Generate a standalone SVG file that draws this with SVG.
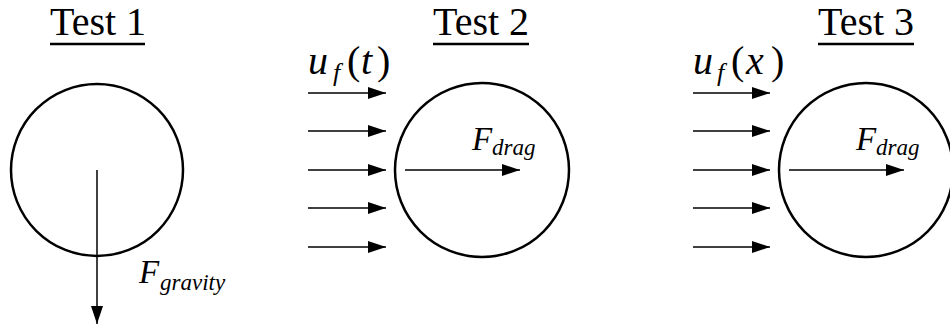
<svg xmlns="http://www.w3.org/2000/svg" width="950" height="329" viewBox="0 0 950 329">
<style>
.t{font-family:"Liberation Serif","DejaVu Serif",serif;font-size:40px;fill:#000}
.m{font-family:"Liberation Serif","DejaVu Serif",serif;font-style:italic;fill:#000}
.n{font-style:normal}
.c{fill:none;stroke:#000;stroke-width:2.5}
.a{stroke:#000;stroke-width:1.5;fill:none;marker-end:url(#ah)}
.u{stroke:#000;stroke-width:2.5}
</style>
<defs>
<marker id="ah" markerUnits="userSpaceOnUse" markerWidth="20" markerHeight="14" refX="18" refY="6" orient="auto">
<path d="M0,0 L18,6 L0,12 Z" fill="#000"/>
</marker>
</defs>
<g id="test1">
<text class="t" x="50" y="35">Test 1</text>
<line class="u" x1="50" y1="44" x2="145" y2="44"/>
<circle class="c" cx="97" cy="170" r="86"/>
<text class="m" x="139" y="283" font-size="33">F<tspan font-size="23" x="160" y="290">gravity</tspan></text>
</g>
<g id="test2">
<text class="t" x="433" y="35">Test 2</text>
<line class="u" x1="433" y1="44" x2="529" y2="44"/>
<circle class="c" cx="482" cy="170" r="87"/>
<text class="m" x="308" y="74" font-size="40">u<tspan font-size="26" x="333" y="81">f</tspan><tspan class="n" x="347" y="74">(</tspan><tspan x="361">t</tspan><tspan class="n" x="377">)</tspan></text>
<text class="m" x="472" y="150" font-size="33">F<tspan font-size="23" x="492" y="155">drag</tspan></text>
</g>
<g id="test3">
<text class="t" x="818" y="35">Test 3</text>
<line class="u" x1="818" y1="44" x2="914" y2="44"/>
<circle class="c" cx="866" cy="170" r="87"/>
<text class="m" x="693" y="74" font-size="40">u<tspan font-size="26" x="717" y="81">f</tspan><tspan class="n" x="731" y="74">(</tspan><tspan x="746">x</tspan><tspan class="n" x="771">)</tspan></text>
<text class="m" x="856" y="150" font-size="33">F<tspan font-size="23" x="876" y="155">drag</tspan></text>
</g>
<g id="connectors">
<line class="a" x1="97" y1="170" x2="97" y2="324"/>
<line class="a" x1="308" y1="93" x2="386" y2="93"/>
<line class="a" x1="308" y1="131" x2="386" y2="131"/>
<line class="a" x1="308" y1="170" x2="386" y2="170"/>
<line class="a" x1="308" y1="208" x2="386" y2="208"/>
<line class="a" x1="308" y1="247" x2="386" y2="247"/>
<line class="a" x1="405" y1="170" x2="520" y2="170"/>
<line class="a" x1="693" y1="93" x2="770" y2="93"/>
<line class="a" x1="693" y1="131" x2="770" y2="131"/>
<line class="a" x1="693" y1="170" x2="770" y2="170"/>
<line class="a" x1="693" y1="208" x2="770" y2="208"/>
<line class="a" x1="693" y1="247" x2="770" y2="247"/>
<line class="a" x1="789" y1="170" x2="904" y2="170"/>
</g>
</svg>
